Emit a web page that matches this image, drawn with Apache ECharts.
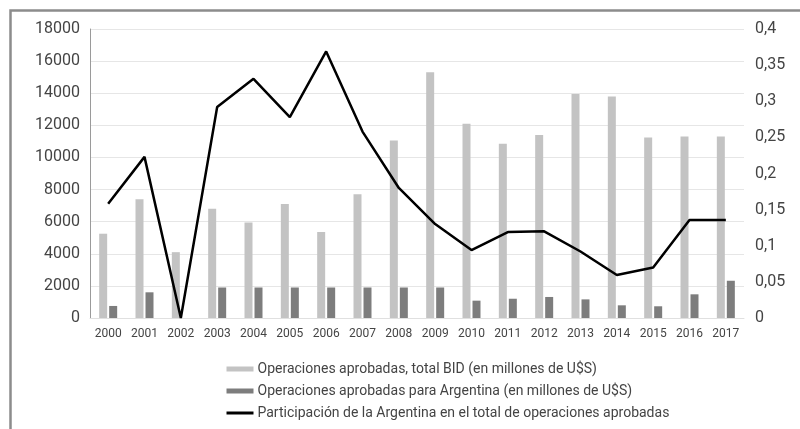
<!DOCTYPE html>
<html>
<head>
<meta charset="utf-8">
<script src="https://cdn.jsdelivr.net/npm/echarts@6/dist/echarts.min.js"></script>
<style>html,body{margin:0;padding:0;background:#fff}#c{width:800px;height:429px}</style>
</head>
<body>
<div id="c"></div>
<script>
var years = ['2000','2001','2002','2003','2004','2005','2006','2007','2008','2009','2010','2011','2012','2013','2014','2015','2016','2017'];
var totalBID = [5250,7400,4100,6800,5950,7100,5350,7700,11050,15300,12100,10850,11400,13950,13800,11250,11300,11300];
var argentina = [750,1600,0,1900,1900,1900,1900,1900,1900,1900,1080,1200,1310,1160,790,730,1475,2320];
var participacion = [0.158,0.223,0,0.292,0.331,0.278,0.369,0.258,0.18,0.13,0.094,0.119,0.12,0.092,0.0595,0.07,0.1356,0.1356];
var nameTotal = 'Operaciones aprobadas, total BID (en millones de U$S)';
var nameArg = 'Operaciones aprobadas para Argentina (en millones de U$S)';
var namePart = 'Participación de la Argentina en el total de operaciones aprobadas';

var chart = echarts.init(document.getElementById('c'), null, {renderer:'canvas'});
var font = 'Roboto';
chart.setOption({
  animation: false,
  textStyle: {fontFamily: font},
  graphic: [{
    type: 'rect', left: 8, top: 8, silent: true,
    shape: {x: 0, y: 0, width: 800, height: 440},
    style: {fill: 'none', stroke: '#8c8c8c', lineWidth: 2.5}
  }],
  grid: {left: 90, right: 56, top: 29, bottom: 111},
  legend: {
    orient: 'vertical', left: 220, top: 357,
    itemWidth: 27, itemHeight: 5, itemGap: 8,
    textStyle: {fontSize: 14, color: '#444', fontFamily: font, padding: [0,0,0,-1]},
    data: [
      {name: nameTotal, icon: 'rect'},
      {name: nameArg, icon: 'rect'},
      {name: namePart, itemStyle: {opacity: 0}, lineStyle: {color: '#000', width: 3, opacity: 1}}
    ]
  },
  xAxis: {
    type: 'category', data: years,
    axisLine: {show: true, lineStyle: {color: '#e0e0e0'}},
    axisTick: {show: false},
    axisLabel: {fontSize: 12, color: '#444', margin: 10, fontFamily: font}
  },
  yAxis: [{
    type: 'value', min: 0, max: 18000, interval: 2000,
    axisLine: {show: true, lineStyle: {color: '#9a9a9a', width: 1}},
    axisTick: {show: false},
    splitLine: {lineStyle: {color: '#e6e6e6', width: 1}},
    axisLabel: {fontSize: 16, color: '#444', margin: 10, fontFamily: font,
      formatter: function(v){ return String(v); }}
  }, {
    type: 'value', min: 0, max: 0.4, interval: 0.05,
    axisLine: {show: false}, axisTick: {show: false},
    splitLine: {show: false},
    axisLabel: {fontSize: 16, color: '#444', margin: 11, fontFamily: font,
      formatter: function(v){ return String(Math.round(v*100)/100).replace('.', ','); }}
  }],
  series: [{
    name: nameTotal, type: 'bar', data: totalBID, barWidth: 8, barGap: '25%',
    itemStyle: {color: '#c3c3c3'}
  }, {
    name: nameArg, type: 'bar', data: argentina, barWidth: 8,
    itemStyle: {color: '#7d7d7d'}
  }, {
    name: namePart, type: 'line', yAxisIndex: 1, data: participacion,
    symbol: 'none', lineStyle: {color: '#000', width: 2.5}, itemStyle: {color: '#000'}
  }]
});
</script>
</body>
</html>
